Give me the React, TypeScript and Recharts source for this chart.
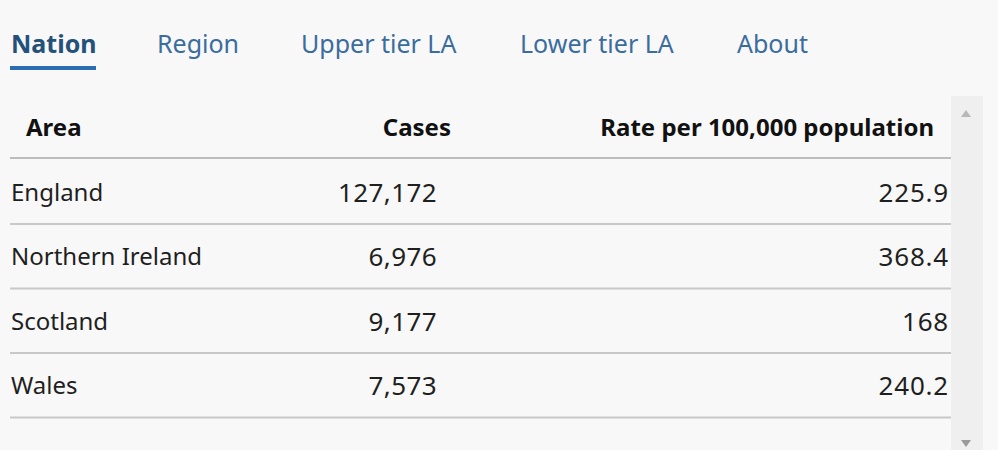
import { BarChart, Bar, XAxis, YAxis } from "recharts";

const areas = ["England", "Northern Ireland", "Scotland", "Wales"];
const cases = [127172, 6976, 9177, 7573];
const rates = ["225.9", "368.4", "168", "240.2"];
const tabs = ["Nation", "Region", "Upper tier LA", "Lower tier LA", "About"];
const tabX = [11, 157, 301, 520, 737];

const rows = areas.map((area, i) => ({ area, cases: cases[i], rate: rates[i], full: 1 }));

const FONT = "'Noto Sans', 'Open Sans', sans-serif";
const TEXT = "#1f1f1f";
const LINE = "#c8c8c8";

const RowShape = (props: any) => {
  const { x, y, width, height, payload } = props;
  const mid = y + height / 2 + 1;
  return (
    <g>
      <text x={11} y={mid} dy="0.35em" fontSize={24} fontFamily={FONT} fill={TEXT} textAnchor="start">
        {payload.area}
      </text>
      <text x={437} y={mid} dy="0.35em" fontSize={26} fontFamily={FONT} fill={TEXT} textAnchor="end" letterSpacing={0.4}>
        {payload.cases.toLocaleString("en-GB")}
      </text>
      <text x={949} y={mid} dy="0.35em" fontSize={26} fontFamily={FONT} fill={TEXT} textAnchor="end" letterSpacing={0.8}>
        {payload.rate}
      </text>
      <line x1={x} x2={x + width} y1={y + height} y2={y + height} stroke={LINE} strokeWidth={2} />
    </g>
  );
};

export default function App() {
  return (
    <div
      style={{
        position: "absolute",
        left: 0,
        top: 0,
        width: 998,
        height: 450,
        background: "#f8f8f8",
        fontFamily: FONT,
        overflow: "hidden",
      }}
    >
      {/* scrollbar strip */}
      <div style={{ position: "absolute", left: 951, top: 96, width: 32, height: 354, background: "#efefef" }} />
      <svg style={{ position: "absolute", left: 0, top: 0 }} width={998} height={450}>
        <polygon points="961,117 971,117 966,110" fill="#b8b8b8" />
        <polygon points="961,440 971,440 966,447" fill="#9a9a9a" />
      </svg>

      {tabs.map((t, i) => (
        <div
          key={t}
          style={{
            position: "absolute",
            left: tabX[i],
            top: 27,
            fontSize: 25,
            lineHeight: "32px",
            fontWeight: i === 0 ? 700 : 400,
            color: i === 0 ? "#24507c" : "#3b6c9e",
            whiteSpace: "nowrap",
          }}
        >
          {t}
        </div>
      ))}
      <div style={{ position: "absolute", left: 10, top: 66, width: 86, height: 4, background: "#2a6db0" }} />

      <div style={{ position: "absolute", left: 26, top: 111, fontSize: 24, lineHeight: "32px", fontWeight: 700, color: "#111" }}>
        Area
      </div>
      <div style={{ position: "absolute", right: 998 - 451, top: 111, fontSize: 24, lineHeight: "32px", fontWeight: 700, color: "#111" }}>
        Cases
      </div>
      <div
        style={{
          position: "absolute",
          right: 998 - 934,
          top: 111,
          fontSize: 24,
          lineHeight: "32px",
          fontWeight: 700,
          color: "#111",
          whiteSpace: "nowrap",
        }}
      >
        Rate per 100,000 population
      </div>
      <div style={{ position: "absolute", left: 10, top: 157, width: 941, height: 2, background: "#bdbdbd" }} />

      <div style={{ position: "absolute", left: 0, top: 0 }}>
        <BarChart
          width={998}
          height={450}
          data={rows}
          layout="vertical"
          barCategoryGap={0}
          margin={{ top: 159, right: 47, bottom: 33, left: 10 }}
        >
          <XAxis type="number" domain={[0, 1]} hide />
          <YAxis type="category" dataKey="area" hide />
          <Bar dataKey="full" isAnimationActive={false} shape={<RowShape />} />
        </BarChart>
      </div>
    </div>
  );
}
